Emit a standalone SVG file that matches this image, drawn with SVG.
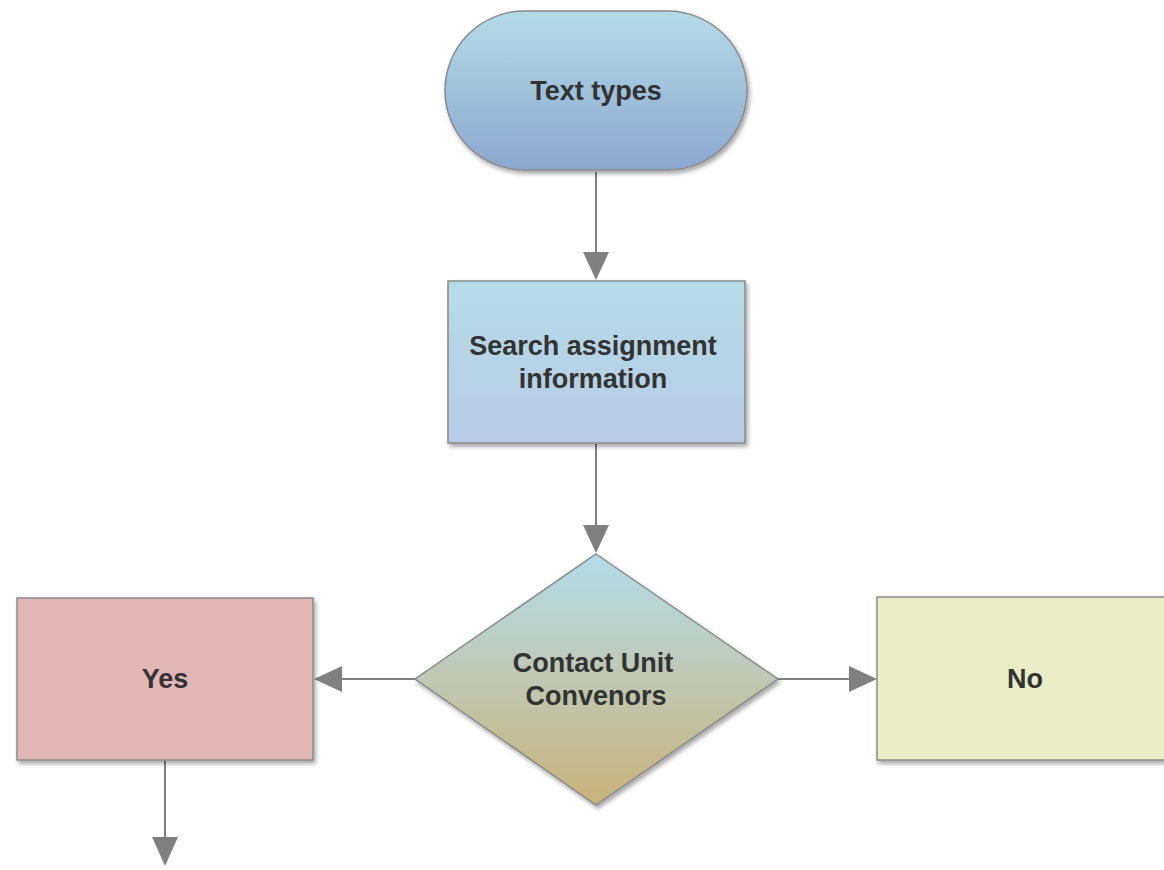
<svg xmlns="http://www.w3.org/2000/svg" width="1164" height="870" viewBox="0 0 1164 870">
<style>
.lbl{font-family:"Liberation Sans",Arial,sans-serif;font-weight:bold;font-size:27px;fill:#333;text-anchor:middle}
.shp{stroke:#8a8a8a;stroke-width:1.5;filter:url(#sh)}
.con{stroke:#808080;stroke-width:2;fill:none}
</style>
<defs>
<linearGradient id="gT" x1="0" y1="0" x2="0" y2="1"><stop offset="0" stop-color="#b4dbe8"/><stop offset="1" stop-color="#8ba8d0"/></linearGradient>
<linearGradient id="gR" x1="0" y1="0" x2="0" y2="1"><stop offset="0" stop-color="#b5dce8"/><stop offset="1" stop-color="#b7cbe6"/></linearGradient>
<linearGradient id="gD" x1="0" y1="0" x2="0" y2="1"><stop offset="0" stop-color="#b3dcea"/><stop offset="0.5" stop-color="#bfc8b2"/><stop offset="1" stop-color="#cab27a"/></linearGradient>
<filter id="sh" x="-10%" y="-10%" width="120%" height="120%"><feDropShadow dx="2" dy="3" stdDeviation="2" flood-color="#000" flood-opacity="0.35"/></filter>
</defs>
<g id="connectors">
<line class="con" x1="596" y1="172" x2="596" y2="252"/><path d="M583,252 L609,252 L596,280 Z" fill="#808080"/>
<line class="con" x1="596" y1="444" x2="596" y2="525"/><path d="M583,525 L609,525 L596,553 Z" fill="#808080"/>
<line class="con" x1="415" y1="679" x2="342" y2="679"/><path d="M342,666 L342,692 L314,679 Z" fill="#808080"/>
<line class="con" x1="778" y1="679" x2="849" y2="679"/><path d="M849,666 L849,692 L877,679 Z" fill="#808080"/>
<line class="con" x1="165" y1="761" x2="165" y2="838"/><path d="M152,837 L178,837 L165,866 Z" fill="#808080"/>
</g>
<g id="n-texttypes">
<rect class="shp" x="445" y="11" width="302" height="159" rx="79.5" fill="url(#gT)"/>
<text class="lbl" x="596" y="100">Text types</text>
</g>
<g id="n-search">
<rect class="shp" x="448" y="281" width="297" height="162" fill="url(#gR)"/>
<text class="lbl" x="593" y="355">Search assignment</text>
<text class="lbl" x="593" y="388">information</text>
</g>
<g id="n-contact">
<path class="shp" d="M596,554 L778,679 L596,805 L415,679 Z" fill="url(#gD)"/>
<text class="lbl" x="593" y="672">Contact Unit</text>
<text class="lbl" x="596" y="705">Convenors</text>
</g>
<g id="n-yes">
<rect class="shp" x="17" y="598" width="296" height="162" fill="#e3b6b6"/>
<text class="lbl" x="165" y="688">Yes</text>
</g>
<g id="n-no">
<rect class="shp" x="877" y="597" width="300" height="163" fill="#eaedc6"/>
<text class="lbl" x="1025" y="688">No</text>
</g>
</svg>
